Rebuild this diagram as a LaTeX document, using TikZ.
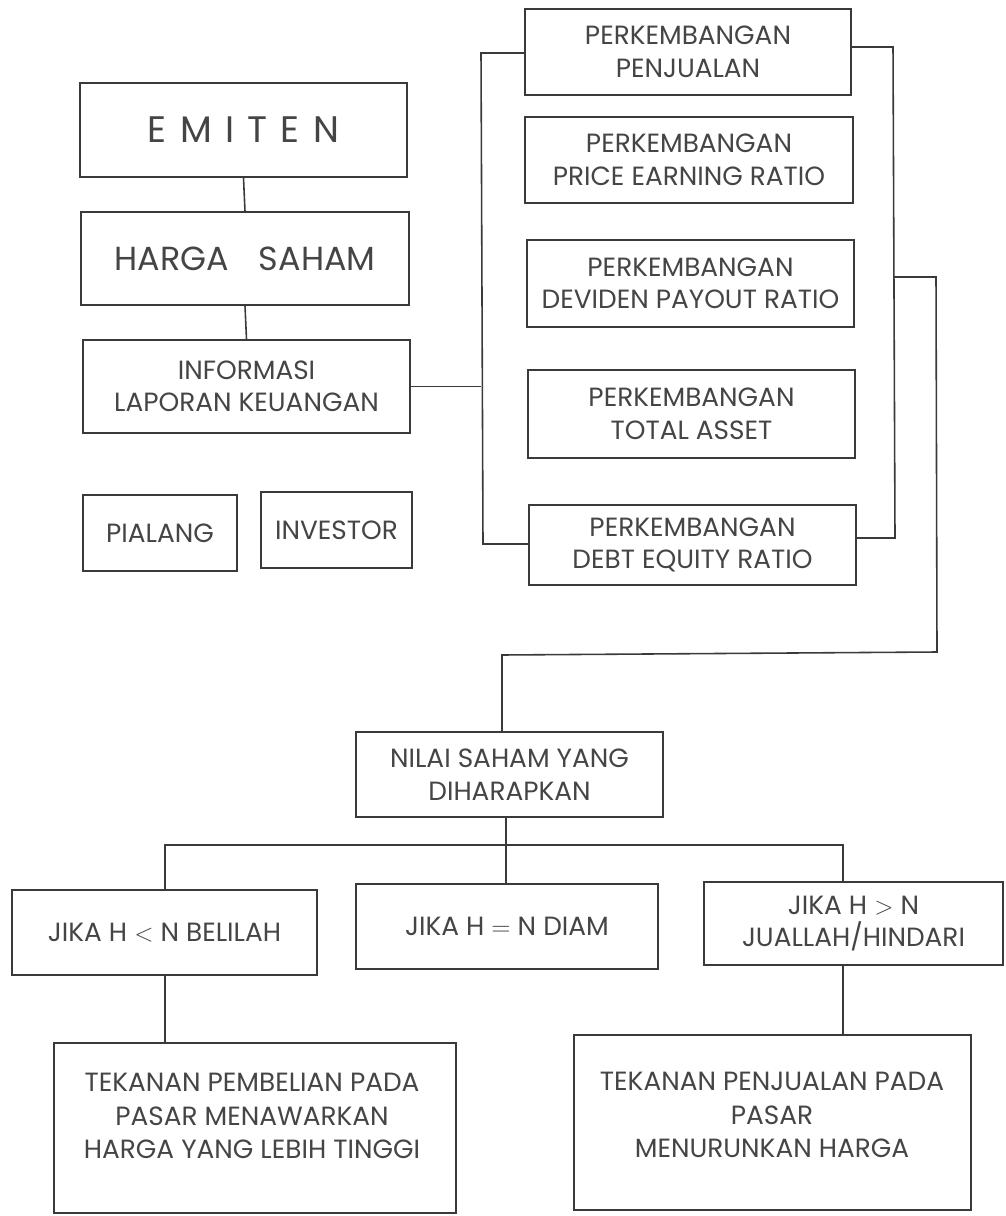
\documentclass[tikz,border=0pt]{standalone}
\usepackage{fontspec}
\setmainfont{Poppins}
\usetikzlibrary{calc}
\definecolor{ink}{HTML}{3A3A3A}
\definecolor{tink}{HTML}{454545}
\begin{document}
\begin{tikzpicture}[x=0.02cm,y=-0.02cm,
  bx/.style n args={2}{draw=ink, line width=0.9pt, minimum width=#1*0.02cm, minimum height=#2*0.02cm, inner sep=0pt, align=center, text=tink, font=\fontsize{15}{18.5}\selectfont},
  lbl/.style={text=tink, align=center, inner sep=0pt, font=\fontsize{15}{19}\selectfont},
  ln/.style={draw=ink, line width=0.9pt}]
\useasboundingbox[fill=white] (0,0) rectangle (1005,1216);

% left column
\node[bx={327}{94}, font=\fontsize{21}{24}\selectfont] (emiten) at (243.5,130) {E\hspace{0.36em}M\hspace{0.36em}I\hspace{0.36em}T\hspace{0.36em}E\hspace{0.36em}N};
\node[bx={328}{93}, font=\fontsize{19}{22}\selectfont] (harga) at (245,258.5) {HARGA\hspace{0.9em}SAHAM};
\node[bx={327}{93}] (info) at (246.5,386.5) {INFORMASI\\LAPORAN KEUANGAN};
\node[bx={154}{76}] (pialang) at (160,533) {PIALANG};
\node[bx={151}{76}] (investor) at (336.5,530) {INVESTOR};

% right column
\node[bx={326}{86}] (penj) at (688,52) {PERKEMBANGAN\\PENJUALAN};
\node[bx={328}{86}] (per) at (689,160) {PERKEMBANGAN\\PRICE EARNING RATIO};
\node[bx={327}{87}] (dpr) at (690.5,283.5) {PERKEMBANGAN\\DEVIDEN PAYOUT RATIO};
\node[bx={327}{88}] (ta) at (691.5,414) {PERKEMBANGAN\\TOTAL ASSET};
\node[bx={327}{80}] (der) at (692.5,545) {PERKEMBANGAN\\DEBT EQUITY RATIO};

% lower part
\node[bx={307}{85}] (nilai) at (509.5,774.5) {NILAI SAHAM YANG\\DIHARAPKAN};
\node[bx={305}{85}] (j1) at (164.5,932.5) {JIKA H $<$ N BELILAH};
\node[bx={302}{85}] (j2) at (507,926.5) {JIKA H $=$ N DIAM};
\node[bx={299}{83}] (j3) at (853.5,923.5) {JIKA H $>$ N\\JUALLAH/HINDARI};
\node[bx={402}{170}] (b1) at (255,1128) {};
\node[bx={397}{175}] (b2) at (772.5,1122.5) {};
\node[lbl] (b1t) at (252,1116) {TEKANAN PEMBELIAN PADA\\PASAR MENAWARKAN\\HARGA YANG LEBIH TINGGI};
\node[lbl] (b2t) at (772,1115) {TEKANAN PENJUALAN PADA\\PASAR\\MENURUNKAN HARGA};

% connectors left column
\draw[ln] (emiten.south) -- (harga.north);
\draw[ln] (harga.south) -- (info.north);
\coordinate (lbtop) at (481,53);
\coordinate (lbbot) at (483,544);
\draw[ln] (info.east) -- (info.east -| lbtop);
\draw[ln] (penj.west |- lbtop) -- (lbtop) -- (lbbot) -- (der.west |- lbbot);
\coordinate (rbtop) at (893,47);
\coordinate (rbbot) at (895,538);
\draw[ln] (penj.east |- rbtop) -- (rbtop) -- (rbbot) -- (der.east |- rbbot);
\coordinate (r1) at (894,277);
\coordinate (r2) at (936,277);
\coordinate (r3) at (937,652);
\coordinate (r4) at (502,655);
\draw[ln] (r1) -- (r2) -- (r3) -- (r4) -- (r4 |- nilai.north);

% lower connectors
\coordinate (busL) at (165,845);
\coordinate (busR) at (843,845);
\draw[ln] (nilai.south -| 506,0) -- (506,845);
\draw[ln] (j1.north -| busL) -- (busL) -- (busR) -- (j3.north -| busR);
\draw[ln] (506,845) -- (j2.north -| 506,0);
\draw[ln] (j1.south -| busL) -- (b1.north -| busL);
\draw[ln] (j3.south -| busR) -- (b2.north -| busR);
\end{tikzpicture}
\end{document}
